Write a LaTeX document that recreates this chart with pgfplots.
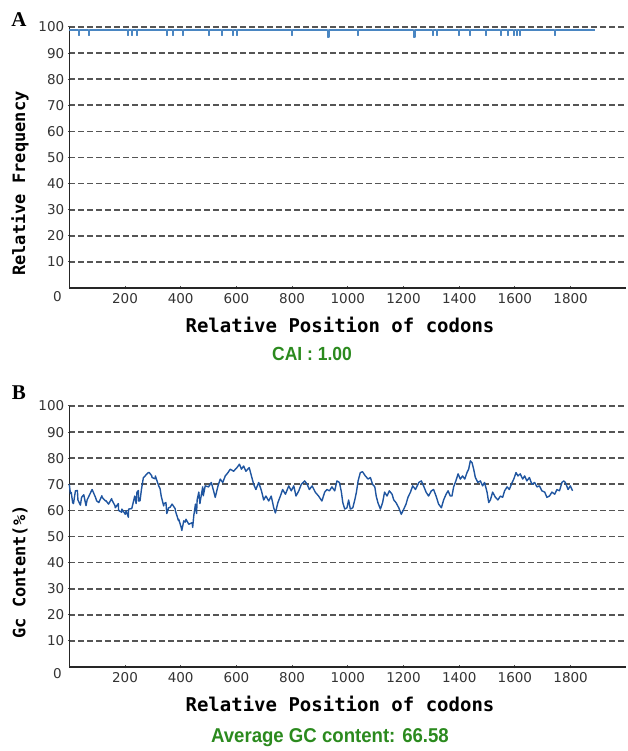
\documentclass[border=0pt]{standalone}
\usepackage{fontspec}
\usepackage{pgfplots}
\pgfplotsset{compat=1.18}
\newfontfamily\tickfont{DejaVu Sans}
\newfontfamily\labfont{DejaVu Sans Mono}
\newfontfamily\capfont{Liberation Sans}
\newfontfamily\panfont{Liberation Serif}
\definecolor{gridgray}{HTML}{555555}
\definecolor{lineA}{HTML}{4A86C2}
\definecolor{lineB}{HTML}{1F55A0}
\definecolor{capgreen}{HTML}{2B8A1E}

\pgfplotsset{codonplot/.style={
  scale only axis, width=557pt, height=261pt,
  xmin=0, xmax=2000, ymin=0, ymax=100,
  axis x line=bottom, axis y line=left,
  axis line style={-, line width=1.6pt, black!85},
  xtick={200,400,...,1800}, ytick={10,20,...,100},
  tick align=center, major tick length=3pt,
  tick style={line width=1pt, black!70},
  ymajorgrids,
  major grid style={dash pattern=on 5.5pt off 3.5pt, line width=1.7pt, gridgray},
  /pgf/number format/assume math mode=true,
  /pgf/number format/1000 sep={},
  ticklabel style={font=\tickfont\fontsize{13.5}{14}\selectfont, black!80},
  xlabel style={font=\labfont\bfseries\fontsize{19}{20}\selectfont,
    at={(axis description cs:0.486,0)}, anchor=center, yshift=-37pt},
  clip=false,
}}

\begin{document}
\begin{tikzpicture}
\useasboundingbox (0,0) rectangle (627pt,751pt);

% panel A
\begin{axis}[codonplot, at={(69.3pt,463pt)}, anchor=south west,
  xlabel={Relative Position of codons},
  ylabel={Relative Frequency},
  ylabel style={font=\labfont\bfseries\fontsize{17}{18}\selectfont,
    at={(axis description cs:-0.0885,0.40)}, anchor=center}]
\addplot[lineA, line width=1.3pt, line join=bevel] coordinates {
(0,98.8)
(33.5,98.8)(33.5,96.8)(36.5,96.8)(36.5,98.8)
(69.5,98.8)(69.5,96.8)(72.5,96.8)(72.5,98.8)
(209.5,98.8)(209.5,96.8)(212.5,96.8)(212.5,98.8)
(223.5,98.8)(223.5,96.8)(226.5,96.8)(226.5,98.8)
(241.5,98.8)(241.5,96.8)(244.5,96.8)(244.5,98.8)
(349.5,98.8)(349.5,96.8)(352.5,96.8)(352.5,98.8)
(370.5,98.8)(370.5,96.8)(373.5,96.8)(373.5,98.8)
(406.5,98.8)(406.5,96.8)(409.5,96.8)(409.5,98.8)
(500.5,98.8)(500.5,96.8)(503.5,96.8)(503.5,98.8)
(546.5,98.8)(546.5,96.8)(549.5,96.8)(549.5,98.8)
(586.5,98.8)(586.5,96.8)(589.5,96.8)(589.5,98.8)
(600.5,98.8)(600.5,96.8)(603.5,96.8)(603.5,98.8)
(798.5,98.8)(798.5,96.8)(801.5,96.8)(801.5,98.8)
(926,98.8)(926,96.2)(932,96.2)(932,98.8)
(1034.5,98.8)(1034.5,96.8)(1037.5,96.8)(1037.5,98.8)
(1235,98.8)(1235,96.2)(1241,96.2)(1241,98.8)
(1304.5,98.8)(1304.5,96.8)(1307.5,96.8)(1307.5,98.8)
(1318.5,98.8)(1318.5,96.8)(1321.5,96.8)(1321.5,98.8)
(1397.5,98.8)(1397.5,96.8)(1400.5,96.8)(1400.5,98.8)
(1437.5,98.8)(1437.5,96.8)(1440.5,96.8)(1440.5,98.8)
(1494.5,98.8)(1494.5,96.8)(1497.5,96.8)(1497.5,98.8)
(1548.5,98.8)(1548.5,96.8)(1551.5,96.8)(1551.5,98.8)
(1573.5,98.8)(1573.5,96.8)(1576.5,96.8)(1576.5,98.8)
(1595.5,98.8)(1595.5,96.8)(1598.5,96.8)(1598.5,98.8)
(1606.5,98.8)(1606.5,96.8)(1609.5,96.8)(1609.5,98.8)
(1616.5,98.8)(1616.5,96.8)(1619.5,96.8)(1619.5,98.8)
(1742.5,98.8)(1742.5,96.8)(1745.5,96.8)(1745.5,98.8)
(1888,98.8)};
\end{axis}

% panel B
\begin{axis}[codonplot, at={(69.3pt,84pt)}, anchor=south west,
  xlabel={Relative Position of codons},
  ylabel={Gc Content(\%)},
  ylabel style={font=\labfont\bfseries\fontsize{17}{18}\selectfont,
    at={(axis description cs:-0.0885,0.364)}, anchor=center}]
\addplot[lineB, line width=1.4pt, line join=round] coordinates {
(0,70)(4,66.5)(7,66.9)(12,63)(15,62.6)(22,67.5)(29,67.6)(31,64)(40,62)(44,65)
(52,66)(60,61.8)(64,64)(80,67.6)(82,68)(94,65)(98,63.7)(106,63)(117,65.6)(118,65)
(130,63.6)(132,63.7)(141,62.4)(152,64.5)(153,64)(164,61.8)(165,61)(176,62.6)(177,60)
(188,59.3)(189,60.5)(201,58.5)(204,59.9)(212,57.4)(213,60.5)(224,60.7)(225,61)
(235,65.5)(240,62.6)(243,67)(248,67.6)(249,63.6)(254,63.7)(259,68)(266,72.6)(267,72.6)
(279,74)(284,74.5)(287,74.5)(296,73.3)(297,72.6)(308,72.1)(309,73.2)(321,69.4)
(326,68.3)(330,65.5)(339,61.7)(340,62.6)(347,63)(350,58.8)(357,61)(362,61.2)
(369,62.4)(380,60.7)(381,59.8)(392,56.1)(393,56.6)(402,53.4)(404,52.3)(411,56)
(416,55.5)(419,56.6)(428,54.9)(429,54.7)(441,55.3)(443,53.5)
(447,58)(453,62.4)(457,58.8)(459,64)(465,67)(469,62.6)(471,64)(479,69)(481,65.6)
(488,69.4)(500,69)(510,70.7)(518,67.5)(524,65)(534,69.4)(542,72)(551,70.7)(560,73.2)
(570,74.5)(578,75.8)(590,75)(602,76.4)(611,77.7)(618,75.8)(626,77)(634,75)(646,76.4)
(654,73.2)(662,70)(670,68)(680,70.7)(690,67.5)(698,64)(706,65.5)(716,63.6)(725,65.5)
(734,61)(740,59)(749,63)(758,65.5)(766,68)(776,66.2)(788,69.4)(797,67.5)(806,69.4)
(814,65.5)(824,67.5)(833,70)(845,71.3)(854,70)(862,68)(872,69.4)(883,67)(895,65.5)
(907,63.6)(917,67)(925,68)(934,67.5)(943,69)(953,67.5)(961,71.3)(970,70.7)(977,67)
(982,63)(989,60.5)(997,61)(1003,64)(1009,60.5)(1018,61)(1025,64)(1031,67)(1037,71.3)
(1045,74.5)(1053,74.8)(1063,73.2)(1073,72)(1081,72.6)(1089,70)(1097,69)(1102,65.5)
(1108,63)(1117,60.5)(1125,63)(1132,67)(1141,65.5)(1149,67.5)(1159,66.2)(1165,64)
(1173,63)(1183,61)(1192,58.5)(1201,60.5)(1209,62.4)(1216,65)(1225,67)(1233,69.4)
(1243,68)(1255,70.7)(1264,71.3)(1272,69.4)(1281,67)(1290,65.5)(1300,67.5)(1308,68)
(1317,65.5)(1326,62.4)(1336,61)(1344,64)(1353,66.2)(1360,67.5)(1368,65.5)
(1374,65.5)(1380,69)(1388,71.3)(1396,74)(1404,72)(1412,73.2)(1420,72)(1428,74.5)
(1434,75.8)(1440,79)(1446,78.3)(1452,75.8)(1458,72.6)(1467,70.7)(1476,71.3)(1484,69.4)
(1491,70.7)(1500,67)(1506,63)(1512,64)(1520,67)(1530,65)(1539,64)(1548,65.5)(1556,65)
(1563,67.5)(1572,69)(1580,68)(1590,70.7)(1596,72)(1604,74.5)(1611,73.2)(1619,74)
(1628,72)(1635,73.2)(1643,71.3)(1652,72.6)(1661,70)(1671,70.7)(1679,69)(1688,69.4)
(1697,67.5)(1707,67)(1715,65)(1724,65.5)(1733,67)(1743,66.2)(1751,68)(1760,67.5)
(1769,70.7)(1775,71.3)(1781,70.7)(1791,68)(1799,69.4)(1807,67.5)};
\end{axis}

% corner zeros, panel letters and captions
\node[font=\tickfont\fontsize{13.5}{14}\selectfont, black!80] at (57.5pt,454pt) {0};
\node[font=\tickfont\fontsize{13.5}{14}\selectfont, black!80] at (57.5pt,77pt) {0};
\node[font=\panfont\bfseries\fontsize{21}{22}\selectfont] at (19pt,731pt) {A};
\node[font=\panfont\bfseries\fontsize{21}{22}\selectfont] at (19pt,358pt) {B};
\node[font=\capfont\bfseries\fontsize{19}{20}\selectfont, text=capgreen] at (312pt,397pt) {\scalebox{0.92}[1]{CAI : 1.00}};
\node[font=\capfont\bfseries\fontsize{20}{21}\selectfont, text=capgreen] at (330pt,13pt) {\scalebox{0.93}[1]{Average GC content: 66.58}};
\end{tikzpicture}
\end{document}
